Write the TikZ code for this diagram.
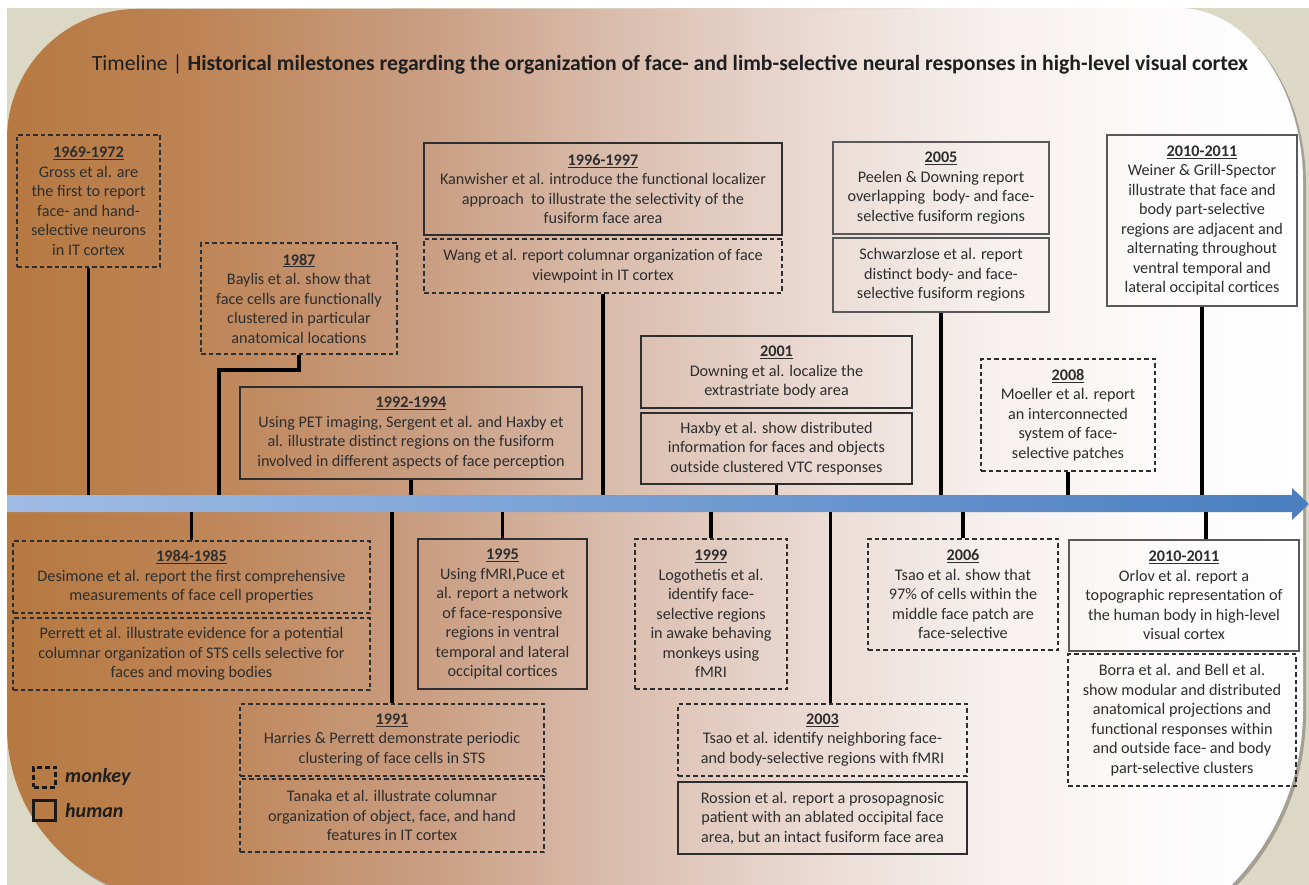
\documentclass[tikz,border=0pt]{standalone}
\usepackage{fontspec}
\setmainfont{Carlito}
\definecolor{outerbg}{HTML}{DCD8C6}
\definecolor{bgca}{HTML}{B67941}
\definecolor{bgcb}{HTML}{BD8354}
\definecolor{bgcc}{HTML}{C99D81}
\definecolor{bgcd}{HTML}{DBBFB0}
\definecolor{bgce}{HTML}{ECDDD7}
\definecolor{bgcf}{HTML}{F6F0EE}
\definecolor{bgcg}{HTML}{FCFAFA}
\definecolor{axleft}{HTML}{A0BCE5}
\definecolor{axright}{HTML}{4A7EC0}
\definecolor{boxink}{HTML}{2E2E2E}
\definecolor{textink}{HTML}{1E1E1E}
\pgfdeclarehorizontalshading{bgshade}{100bp}{color(0bp)=(bgca); color(25bp)=(bgca);
  color(32bp)=(bgcb); color(41bp)=(bgcc); color(49bp)=(bgcd); color(57bp)=(bgce);
  color(63bp)=(bgcf); color(69bp)=(bgcg); color(75bp)=(white); color(100bp)=(white)}
\newcommand{\evtsize}{\fontsize{16.2}{19.5}\selectfont}
\newcommand{\yr}[1]{\underline{\textbf{#1}}}
% outline of the rounded panel, in pixel units (y runs downwards)
\newcommand{\panelpath}{(7,139) arc[start angle=180, end angle=270, radius=130]
  -- (1178,8) arc[start angle=270, end angle=360, x radius=125, y radius=174]
  -- (1303,710) arc[start angle=0, end angle=90, radius=250]
  -- (180,900) arc[start angle=90, end angle=180, radius=173] -- cycle}

\begin{document}
\begin{tikzpicture}[
  x=1pt,
  y=-1pt,
  every node/.style={textink},
  evt/.style={font=\evtsize, align=center, inner sep=0pt, boxink},
  human/.style={evt, draw, line width=1.4pt},
  monkey/.style={evt, draw, line width=1.2pt, dash pattern=on 4.5pt off 3pt},
  stem/.style={black, line width=3.2pt},
  legkey/.style={draw, black!90, line width=3pt, minimum width=22pt, minimum height=20pt, inner sep=0pt},
  legtxt/.style={anchor=west, inner sep=0pt, font=\fontsize{20}{24}\selectfont\bfseries\itshape}
]
  \useasboundingbox (0,0) rectangle (1309,885);

  % ---- background panel ----
  \fill[outerbg] (7,8) rectangle (1309,885);
  \fill[black, opacity=0.25] [xshift=3pt, yshift=-3pt] \panelpath;
  \shade[shading=bgshade] \panelpath;

  % ---- title ----
  \node[font=\fontsize{21.7}{25}\selectfont] (title) at (670,65)
    {Timeline | \textbf{Historical milestones regarding the organization of face- and limb-selective neural responses in high-level visual cortex}};

  % ---- time axis ----
  \shade[left color=axleft, right color=axright]
    (7,495) -- (1292,495) -- (1292,488) -- (1309,504) -- (1292,520) -- (1292,512) -- (7,512) -- cycle;
  \coordinate (axtop) at (0,495);
  \coordinate (axbot) at (0,512);

  % ---- events above the axis ----
  \node[monkey, minimum width=143pt, minimum height=132pt] (y1969) at (88.5,201)
    {\yr{1969-1972}\\Gross et al. are\\the first to report\\face- and hand-\\selective neurons\\in IT cortex};
  \node[monkey, minimum width=196pt, minimum height=111pt] (y1987) at (299,298.5)
    {\yr{1987}\\Baylis et al. show that\\face cells are functionally\\clustered in particular\\anatomical locations};
  \node[human, minimum width=342pt, minimum height=92pt] (y1992) at (411,433)
    {\yr{1992-1994}\\Using PET imaging, Sergent et al. and Haxby et\\al. illustrate distinct regions on the fusiform\\involved in different aspects of face perception};
  \node[human, minimum width=358pt, minimum height=92pt] (y1996) at (603,189)
    {\yr{1996-1997}\\Kanwisher et al. introduce the functional localizer\\approach\ \ to illustrate the selectivity of the\\fusiform face area};
  \node[monkey, minimum width=358pt, minimum height=54pt] (wang) at (603,266)
    {Wang et al. report columnar organization of face\\viewpoint in IT cortex};
  \node[human, minimum width=271pt, minimum height=72pt] (y2001) at (776.5,372)
    {\yr{2001}\\Downing et al. localize the\\extrastriate body area};
  \node[human, minimum width=271pt, minimum height=71pt] (haxby) at (776.5,448.5)
    {Haxby et al. show distributed\\information for faces and objects\\outside clustered VTC responses};
  \node[human, draw=black!65, line width=2pt, minimum width=216pt, minimum height=92pt] (y2005) at (941,188)
    {\yr{2005}\\Peelen \& Downing report\\overlapping\ \ body- and face-\\selective fusiform regions};
  \node[human, draw=black!65, line width=2pt, minimum width=216pt, minimum height=74pt] (schwarz) at (941,275)
    {Schwarzlose et al. report\\distinct body- and face-\\selective fusiform regions};
  \node[monkey, minimum width=174pt, minimum height=112pt] (y2008) at (1068,415)
    {\yr{2008}\\Moeller et al. report\\an interconnected\\system of face-\\selective patches};
  \node[human, draw=black!65, line width=2pt, minimum width=190pt, minimum height=171pt] (y2010a) at (1202,220.5)
    {\yr{2010-2011}\\Weiner \& Grill-Spector\\illustrate that face and\\body part-selective\\regions are adjacent and\\alternating throughout\\ventral temporal and\\lateral occipital cortices};

  % ---- events below the axis ----
  \node[monkey, minimum width=357pt, minimum height=72pt] (y1984) at (191.5,577)
    {\yr{1984-1985}\\Desimone et al. report the first comprehensive\\measurements of face cell properties};
  \node[monkey, minimum width=357pt, minimum height=72pt] (perrett) at (191.5,654)
    {Perrett et al. illustrate evidence for a potential\\columnar organization of STS cells selective for\\faces and moving bodies};
  \node[monkey, minimum width=304pt, minimum height=72pt] (y1991) at (392,740)
    {\yr{1991}\\Harries \& Perrett demonstrate periodic\\clustering of face cells in STS};
  \node[monkey, minimum width=304pt, minimum height=73pt] (tanaka) at (392,815.5)
    {Tanaka et al. illustrate columnar\\organization of object, face, and hand\\features in IT cortex};
  \node[human, minimum width=169pt, minimum height=150pt] (y1995) at (502.5,614)
    {\yr{1995}\\Using fMRI,Puce et\\al. report a network\\of face-responsive\\regions in ventral\\temporal and lateral\\occipital cortices};
  \node[monkey, minimum width=152pt, minimum height=150pt] (y1999) at (711,614)
    {\yr{1999}\\Logothetis et al.\\identify face-\\selective regions\\in awake behaving\\monkeys using\\fMRI};
  \node[monkey, minimum width=289pt, minimum height=72pt] (y2003) at (822.5,740)
    {\yr{2003}\\Tsao et al. identify neighboring face-\\and body-selective regions with fMRI};
  \node[human, minimum width=289pt, minimum height=72pt] (rossion) at (822.5,818)
    {Rossion et al. report a prosopagnosic\\patient with an ablated occipital face\\area, but an intact fusiform face area};
  \node[monkey, minimum width=190pt, minimum height=111pt] (y2006) at (963,594.5)
    {\yr{2006}\\Tsao et al. show that\\97\% of cells within the\\middle face patch are\\face-selective};
  \node[human, draw=black!65, line width=2pt, minimum width=230pt, minimum height=111pt] (y2010b) at (1184,595.5)
    {\yr{2010-2011}\\Orlov et al. report a\\topographic representation of\\the human body in high-level\\visual cortex};
  \node[monkey, minimum width=228pt, minimum height=132pt] (borra) at (1182,720)
    {Borra et al. and Bell et al.\\show modular and distributed\\anatomical projections and\\functional responses within\\and outside face- and body\\part-selective clusters};

  % ---- stems to the axis ----
  \coordinate (k1987) at (219,370);
  \coordinate (s2003) at ([xshift=8pt]y2003.north);
  \coordinate (s2010b) at ([xshift=22pt]y2010b.north);
  \draw[stem] (y1969.south) -- (y1969.south |- axtop);
  \draw[stem] (y1987.south) |- (k1987) -- (k1987 |- axtop);
  \draw[stem] (y1992.south) -- (y1992.south |- axtop);
  \draw[stem] (wang.south) -- (wang.south |- axtop);
  \draw[stem] (haxby.south) -- (haxby.south |- axtop);
  \draw[stem] (schwarz.south) -- (schwarz.south |- axtop);
  \draw[stem] (y2008.south) -- (y2008.south |- axtop);
  \draw[stem] (y2010a.south) -- (y2010a.south |- axtop);
  \draw[stem] (y1984.north) -- (y1984.north |- axbot);
  \draw[stem] (y1991.north) -- (y1991.north |- axbot);
  \draw[stem] (y1995.north) -- (y1995.north |- axbot);
  \draw[stem] (y1999.north) -- (y1999.north |- axbot);
  \draw[stem] (s2003) -- (s2003 |- axbot);
  \draw[stem] (y2006.north) -- (y2006.north |- axbot);
  \draw[stem] (s2010b) -- (s2010b |- axbot);

  % ---- legend ----
  \node[legkey, dash pattern=on 5pt off 3pt] (kmonkey) at (44.5,777) {};
  \node[legtxt] (lmonkey) at (65,777) {monkey};
  \node[legkey] (khuman) at (44.5,810.5) {};
  \node[legtxt] (lhuman) at (65,810.5) {human};
\end{tikzpicture}
\end{document}
